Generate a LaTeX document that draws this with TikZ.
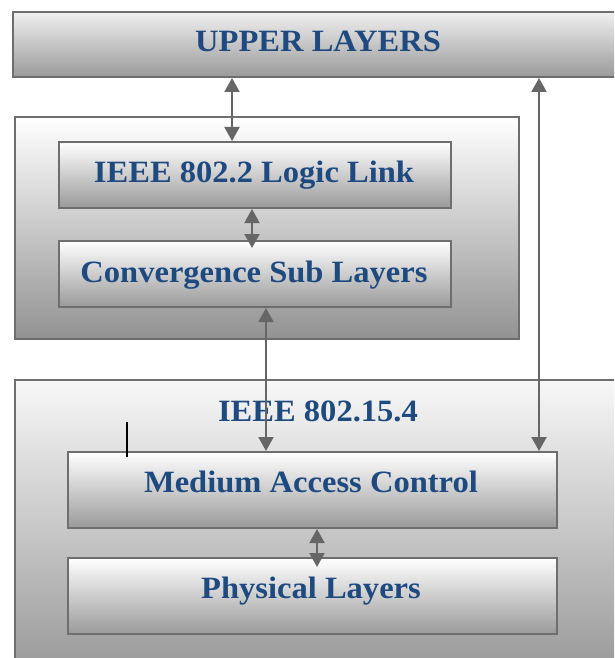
\documentclass[tikz,border=0pt]{standalone}
\usepackage{fontspec}
\setmainfont{Liberation Serif}
\newfontfamily\lblfont[FakeStretch=1.05]{Liberation Serif}
\usetikzlibrary{arrows.meta,calc}
\definecolor{txtblue}{HTML}{1F4A80}
\definecolor{edgegray}{HTML}{6E6E6E}
\definecolor{arrgray}{HTML}{666666}
\definecolor{shadelo}{HTML}{9A9A9A}
\tikzset{
  layerbox/.style={draw=edgegray, line width=2pt, shading=axis, top color=white, bottom color=shadelo, inner sep=0pt},
  groupbox/.style={draw=edgegray, line width=2pt, shading=axis, top color=white!97!black, bottom color=shadelo!105, inner sep=0pt},
  lbl/.style={text=txtblue, font=\lblfont\bfseries\fontsize{31}{36}\selectfont, anchor=base, inner sep=0pt},
  dbl/.style={draw=arrgray, line width=2pt, {Triangle[width=15pt,length=14pt]}-{Triangle[width=15pt,length=14pt]}}
}
\begin{document}
\begin{tikzpicture}[x=1pt,y=-1pt]
\useasboundingbox (0,0) rectangle (614,658);
\clip (0,0) rectangle (614,658);
% upper layers
\node[layerbox, top color=white!94!black, minimum width=610pt, minimum height=65pt, anchor=north west] (upper) at (12,11) {};
\node[lbl] (uppertxt) at (318,52) {UPPER LAYERS};
% group 1
\node[groupbox, top color=white, bottom color=shadelo!95!black, minimum width=504pt, minimum height=222pt, anchor=north west] (grp1) at (14,116) {};
\node[layerbox, minimum width=392pt, minimum height=66pt, anchor=north west] (logic) at (58,141) {};
\node[lbl] (logictxt) at (254,182) {IEEE 802.2 Logic Link};
\node[layerbox, minimum width=392pt, minimum height=66pt, anchor=north west] (conv) at (58,240) {};
\node[lbl] (convtxt) at (254,282) {Convergence Sub Layers};
% group 2
\node[groupbox, top color=white!97!black, bottom color=shadelo, minimum width=620pt, minimum height=290pt, anchor=north west] (grp2) at (14,379) {};
\node[lbl] (grp2txt) at (318,421) {IEEE 802.15.4};
\node[layerbox, minimum width=489pt, minimum height=76pt, anchor=north west] (mac) at (67,451) {};
\node[lbl] (mactxt) at (311,492) {Medium Access Control};
\node[layerbox, minimum width=489pt, minimum height=76pt, anchor=north west] (phy) at (67,557) {};
\node[lbl] (phytxt) at (311,598) {Physical Layers};
% arrow x positions
\coordinate (xa) at (232,0);
\coordinate (xb) at (539,0);
\coordinate (xc) at (252,0);
\coordinate (xd) at (266,0);
\coordinate (xe) at (317,0);
\draw[dbl] (xa |- upper.south) -- (xa |- logic.north);
\draw[dbl] (xb |- upper.south) -- (xb |- mac.north);
\draw[dbl] (xc |- logic.south) -- ($(xc |- conv.north)+(0,8)$);
\draw[dbl] (xd |- conv.south) -- (xd |- mac.north);
\draw[dbl] (xe |- mac.south) -- ($(xe |- phy.north)+(0,10)$);
% stray cursor mark
\draw[black, line width=2pt] (127,422) -- (127,457);
\end{tikzpicture}
\end{document}
